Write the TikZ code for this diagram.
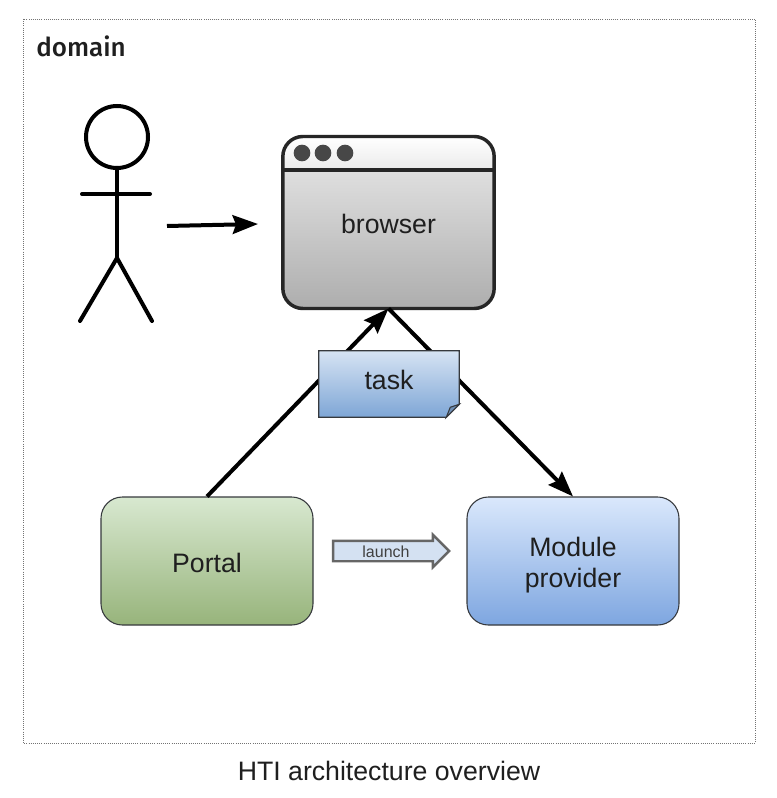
\documentclass[tikz,border=0pt]{standalone}
\usepackage{fontspec}
\setmainfont{Liberation Sans}
\newfontface\medf{Fira Sans Medium}
\usetikzlibrary{arrows.meta,shapes.arrows,calc}
\definecolor{ink}{HTML}{1F1F1F}
\definecolor{edgecol}{HTML}{36393D}
\definecolor{taskfold}{HTML}{6F8FB5}
\tikzset{
  x=0.75pt,y=-0.75pt,
  bigtext/.style={font=\fontsize{20}{23}\selectfont,text=ink,align=center},
  stick/.style={line width=3pt,black,line cap=round},
  conn/.style={line width=3pt,black,-{Stealth[length=19pt,width=14pt,inset=2.5pt]}},
  box/.style={draw=edgecol,line width=0.8pt,rounded corners=16pt,minimum width=159pt,minimum height=96pt,inner sep=0pt,bigtext},
  dot/.style={circle,fill=black!72,inner sep=0pt,minimum size=12.5pt},
  winline/.style={black!85,line width=2.6pt},
}
\begin{document}
\begin{tikzpicture}
\useasboundingbox (0,0) rectangle (776,798);
\fill[white] (0,0) rectangle (776,798);
% frame
\coordinate (fa) at (23,19);
\coordinate (fb) at (755,743);
\draw[black!55,line width=0.6pt,densely dotted] (fa) rectangle (fb);
\node[anchor=base west,inner sep=0pt,font=\fontsize{19.5}{24}\medf,text=ink] (domain) at (36,57) {domain};
% person
\coordinate (neck) at (117,168);
\coordinate (hip) at (117,258);
\draw[stick] (117,137) circle (31);
\draw[stick] (neck) -- (hip);
\draw[stick] (82,194) -- (150,194);
\draw[stick] (hip) -- (80,321);
\draw[stick] (hip) -- (152,321);
% browser
\node[rounded corners=15pt,outer sep=0pt,inner sep=0pt,minimum width=158.5pt,minimum height=129pt,top color=black!8,bottom color=black!32,bigtext] (browser) at (388.5,222.5) {\rule{0pt}{17pt}browser};
\begin{scope}
  \clip[rounded corners=15pt] (browser.north west) rectangle (browser.south east);
  \shade[top color=black!0,bottom color=black!8] (browser.north west) rectangle (browser.east |- 0,170);
\end{scope}
\draw[winline,rounded corners=15pt] (browser.north west) rectangle (browser.south east);
\draw[winline] (browser.west |- 0,170) -- (browser.east |- 0,170);
\node[dot] (d1) at (302,153) {};
\node[dot] (d2) at (323,153) {};
\node[dot] (d3) at (345,153) {};
% portal, provider
\node[box,top color={rgb,255:red,216;green,232;blue,208},bottom color={rgb,255:red,151;green,180;blue,123}] (portal) at (207,561) {\rule{0pt}{18pt}Portal};
\node[box,top color={rgb,255:red,218;green,232;blue,252},bottom color={rgb,255:red,126;green,166;blue,224}] (module) at (573,561) {\rule{0pt}{21pt}Module\\provider};
% connectors
\coordinate (ua) at (167,226);
\coordinate (ub) at (258,224);
\draw[conn] (ua) -- (ub);
\draw[conn] (portal.north) -- (browser.south);
\draw[conn] (browser.south) -- (module.north);
% task
\node[minimum width=105pt,minimum height=49.5pt,inner sep=0pt,bigtext] (task) at (389,384) {};
\draw[edgecol,line width=0.8pt,top color={rgb,255:red,214;green,227;blue,243},bottom color={rgb,255:red,126;green,166;blue,214}]
  (task.north west) -- (task.north east) -- ($(task.south east)+(0,-13)$) -- ($(task.south east)+(-13,0)$) -- (task.south west) -- cycle;
\draw[edgecol,line width=0.8pt,fill=taskfold] ($(task.south east)+(0,-13)$) -- ($(task.south east)+(-9,-10)$) -- ($(task.south east)+(-13,0)$) -- cycle;
\node[bigtext,anchor=base] (tasklabel) at (389,389) {task};
% launch
\node[single arrow,draw=black!60,line width=1.8pt,fill={rgb,255:red,212;green,225;blue,242},
  minimum height=87pt,minimum width=24pt,single arrow head extend=4.5pt,single arrow head indent=0pt,
  shape border uses incircle=false,inner sep=0pt,text height=11.5pt,text depth=2pt,
  font=\fontsize{12}{14}\selectfont,text=black!75] (launch) at (386,551) {launch};
% caption
\node[inner sep=0pt,anchor=base,font=\fontsize{20}{24}\selectfont,text=ink] (caption) at (389,780) {HTI architecture overview};
\end{tikzpicture}
\end{document}
